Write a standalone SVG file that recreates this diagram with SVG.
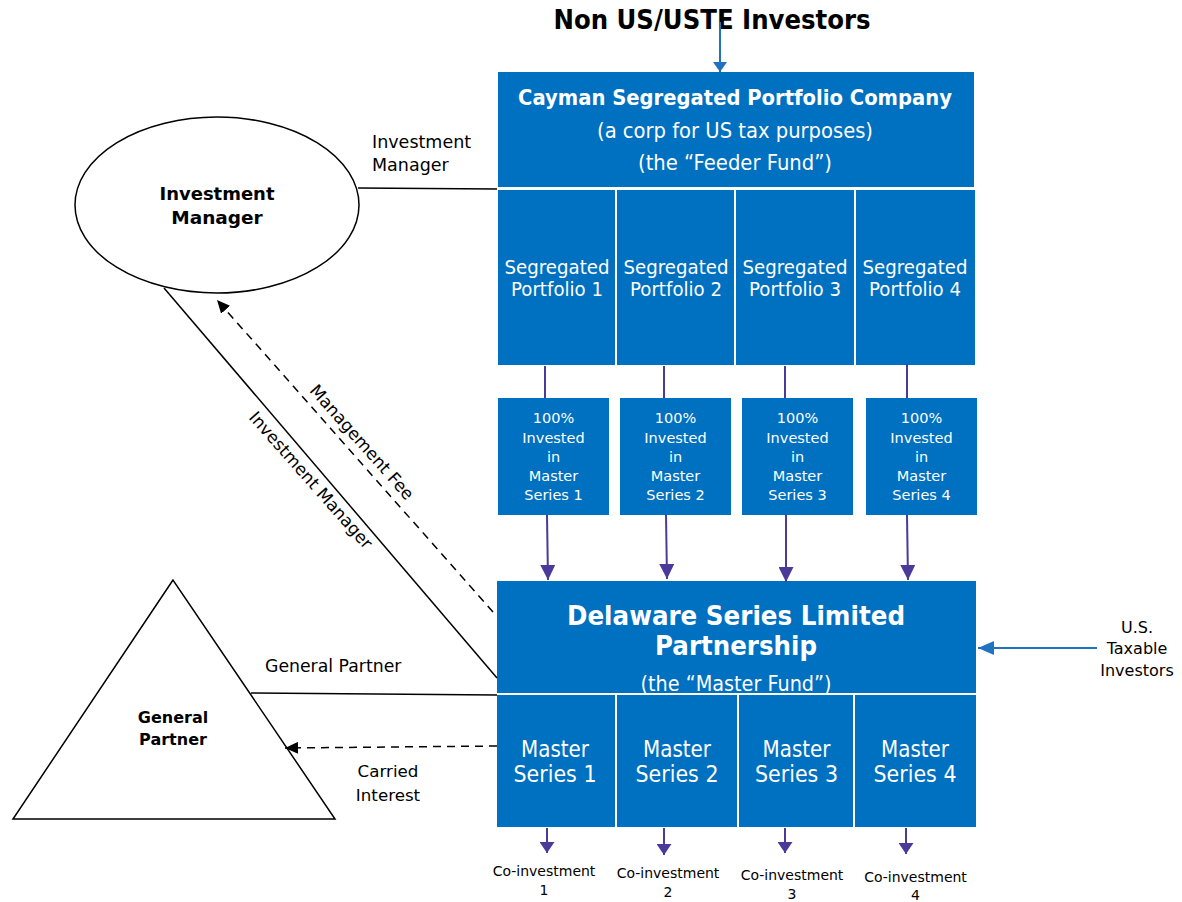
<svg xmlns="http://www.w3.org/2000/svg" width="1182" height="902" viewBox="0 0 1182 902">
<style>
text{font-family:"DejaVu Sans","Liberation Sans",sans-serif;}
.box{fill:#0070C0;stroke:#ffffff;stroke-width:2;}
.wt{fill:#ffffff;text-anchor:middle;}
.bk{fill:#000000;}
.c{text-anchor:middle;}
.b{font-weight:bold;}
.ln{stroke:#000000;stroke-width:1.5;fill:none;}
.dash{stroke:#000000;stroke-width:1.5;fill:none;stroke-dasharray:8 6;}
.pu{stroke:#4B3A9A;stroke-width:2;fill:none;}
.bl{stroke:#1F72C0;stroke-width:2;fill:none;}
.sp{font-size:20px;}
.ms{font-size:22.5px;}
</style>
<defs>
<marker id="apu" markerUnits="userSpaceOnUse" markerWidth="15" markerHeight="15" refX="15" refY="7.5" orient="auto"><path d="M0,0 L15,7.5 L0,15 z" fill="#4B3A9A"/></marker>
<marker id="apus" markerUnits="userSpaceOnUse" markerWidth="11" markerHeight="15" refX="11" refY="7.5" orient="auto"><path d="M0,0 L11,7.5 L0,15 z" fill="#4B3A9A"/></marker>
<marker id="abk" markerUnits="userSpaceOnUse" markerWidth="13" markerHeight="12" refX="13" refY="6" orient="auto"><path d="M0,0 L13,6 L0,12 z" fill="#000000"/></marker>
<marker id="abl" markerUnits="userSpaceOnUse" markerWidth="16" markerHeight="14" refX="16" refY="7" orient="auto"><path d="M0,0 L16,7 L0,14 z" fill="#1F72C0"/></marker>
<marker id="abls" markerUnits="userSpaceOnUse" markerWidth="10" markerHeight="14" refX="10" refY="7" orient="auto"><path d="M0,0 L10,7 L0,14 z" fill="#1F72C0"/></marker>
</defs>

<g id="title">
<text class="bk c b" x="712" y="29" font-size="26.5" textLength="317" lengthAdjust="spacingAndGlyphs">Non US/USTE Investors</text>
</g>

<g id="cayman">
<rect class="box" x="497" y="71" width="478" height="117"/>
<text class="wt b" x="735" y="105" font-size="21" textLength="434" lengthAdjust="spacingAndGlyphs">Cayman Segregated Portfolio Company</text>
<text class="wt" x="735" y="138" font-size="21" textLength="276" lengthAdjust="spacingAndGlyphs">(a corp for US tax purposes)</text>
<text class="wt" x="735" y="170" font-size="21" textLength="194" lengthAdjust="spacingAndGlyphs">(the “Feeder Fund”)</text>
</g>

<g id="sp1"><rect class="box" x="497" y="189" width="119" height="177"/>
<text class="wt sp" x="557" y="274" textLength="105" lengthAdjust="spacingAndGlyphs">Segregated</text><text class="wt sp" x="557" y="296" textLength="92" lengthAdjust="spacingAndGlyphs">Portfolio 1</text></g>
<g id="sp2"><rect class="box" x="616" y="189" width="119" height="177"/>
<text class="wt sp" x="676" y="274" textLength="105" lengthAdjust="spacingAndGlyphs">Segregated</text><text class="wt sp" x="676" y="296" textLength="92" lengthAdjust="spacingAndGlyphs">Portfolio 2</text></g>
<g id="sp3"><rect class="box" x="735" y="189" width="120" height="177"/>
<text class="wt sp" x="795" y="274" textLength="105" lengthAdjust="spacingAndGlyphs">Segregated</text><text class="wt sp" x="795" y="296" textLength="92" lengthAdjust="spacingAndGlyphs">Portfolio 3</text></g>
<g id="sp4"><rect class="box" x="855" y="189" width="121" height="177"/>
<text class="wt sp" x="915" y="274" textLength="105" lengthAdjust="spacingAndGlyphs">Segregated</text><text class="wt sp" x="915" y="296" textLength="92" lengthAdjust="spacingAndGlyphs">Portfolio 4</text></g>

<g id="inv1"><rect x="498" y="398" width="111" height="117" fill="#0070C0"/>
<text class="wt" font-size="14.5"><tspan x="553.5" y="423">100%</tspan><tspan x="553.5" y="443">Invested</tspan><tspan x="553.5" y="462">in</tspan><tspan x="553.5" y="481">Master</tspan><tspan x="553.5" y="500">Series 1</tspan></text></g>
<g id="inv2"><rect x="620" y="398" width="111" height="117" fill="#0070C0"/>
<text class="wt" font-size="14.5"><tspan x="675.5" y="423">100%</tspan><tspan x="675.5" y="443">Invested</tspan><tspan x="675.5" y="462">in</tspan><tspan x="675.5" y="481">Master</tspan><tspan x="675.5" y="500">Series 2</tspan></text></g>
<g id="inv3"><rect x="742" y="398" width="111" height="117" fill="#0070C0"/>
<text class="wt" font-size="14.5"><tspan x="797.5" y="423">100%</tspan><tspan x="797.5" y="443">Invested</tspan><tspan x="797.5" y="462">in</tspan><tspan x="797.5" y="481">Master</tspan><tspan x="797.5" y="500">Series 3</tspan></text></g>
<g id="inv4"><rect x="866" y="398" width="111" height="117" fill="#0070C0"/>
<text class="wt" font-size="14.5"><tspan x="921.5" y="423">100%</tspan><tspan x="921.5" y="443">Invested</tspan><tspan x="921.5" y="462">in</tspan><tspan x="921.5" y="481">Master</tspan><tspan x="921.5" y="500">Series 4</tspan></text></g>

<g id="delaware">
<rect class="box" x="496" y="580" width="481" height="114"/>
<text class="wt b" x="736" y="625" font-size="26.5" textLength="338" lengthAdjust="spacingAndGlyphs">Delaware Series Limited</text>
<text class="wt b" x="736" y="655" font-size="26.5" textLength="162" lengthAdjust="spacingAndGlyphs">Partnership</text>
<text class="wt" x="736" y="691" font-size="21" textLength="191" lengthAdjust="spacingAndGlyphs">(the “Master Fund”)</text>
</g>

<g id="ms1"><rect class="box" x="496" y="694" width="120" height="134"/>
<text class="wt ms" x="555" y="757" textLength="68" lengthAdjust="spacingAndGlyphs">Master</text><text class="wt ms" x="555" y="782" textLength="83" lengthAdjust="spacingAndGlyphs">Series 1</text></g>
<g id="ms2"><rect class="box" x="616" y="694" width="122" height="134"/>
<text class="wt ms" x="677" y="757" textLength="68" lengthAdjust="spacingAndGlyphs">Master</text><text class="wt ms" x="677" y="782" textLength="83" lengthAdjust="spacingAndGlyphs">Series 2</text></g>
<g id="ms3"><rect class="box" x="738" y="694" width="116" height="134"/>
<text class="wt ms" x="796.5" y="757" textLength="68" lengthAdjust="spacingAndGlyphs">Master</text><text class="wt ms" x="796.5" y="782" textLength="83" lengthAdjust="spacingAndGlyphs">Series 3</text></g>
<g id="ms4"><rect class="box" x="854" y="694" width="123" height="134"/>
<text class="wt ms" x="915" y="757" textLength="68" lengthAdjust="spacingAndGlyphs">Master</text><text class="wt ms" x="915" y="782" textLength="83" lengthAdjust="spacingAndGlyphs">Series 4</text></g>

<g id="co1"><text class="bk c" font-size="14"><tspan x="544" y="876">Co-investment</tspan><tspan x="544" y="895">1</tspan></text></g>
<g id="co2"><text class="bk c" font-size="14"><tspan x="668" y="878">Co-investment</tspan><tspan x="668" y="897">2</tspan></text></g>
<g id="co3"><text class="bk c" font-size="14"><tspan x="792" y="880">Co-investment</tspan><tspan x="792" y="899">3</tspan></text></g>
<g id="co4"><text class="bk c" font-size="14"><tspan x="915.5" y="882">Co-investment</tspan><tspan x="915.5" y="900">4</tspan></text></g>

<g id="investment-manager">
<ellipse cx="217" cy="205" rx="142" ry="88" fill="#ffffff" stroke="#000000" stroke-width="1.5"/>
<text class="bk c b" x="217" y="200" font-size="18.5" textLength="115" lengthAdjust="spacingAndGlyphs">Investment</text>
<text class="bk c b" x="217" y="224" font-size="18.5">Manager</text>
</g>

<g id="general-partner">
<polygon points="173,580 13,819 335,819" fill="#ffffff" stroke="#000000" stroke-width="1.5"/>
<text class="bk c b" x="173" y="723" font-size="16">General</text>
<text class="bk c b" x="173" y="745" font-size="16">Partner</text>
</g>

<g id="us-taxable">
<text class="bk c" font-size="16"><tspan x="1137" y="633">U.S.</tspan><tspan x="1137" y="654">Taxable</tspan><tspan x="1137" y="676">Investors</tspan></text>
</g>

<g id="connectors">
<line class="bl" x1="720" y1="22" x2="720" y2="72" marker-end="url(#abls)"/>
<line class="bl" x1="1097" y1="648" x2="978" y2="648" marker-end="url(#abl)"/>

<line class="pu" x1="545" y1="366" x2="545" y2="398"/>
<line class="pu" x1="664" y1="366" x2="664" y2="398"/>
<line class="pu" x1="785" y1="366" x2="785" y2="398"/>
<line class="pu" x1="907" y1="364" x2="907" y2="398"/>

<line class="pu" x1="547" y1="515" x2="548" y2="580" marker-end="url(#apu)"/>
<line class="pu" x1="666" y1="515" x2="667" y2="579" marker-end="url(#apu)"/>
<line class="pu" x1="786" y1="515" x2="786" y2="582" marker-end="url(#apu)"/>
<line class="pu" x1="907" y1="515" x2="908" y2="580" marker-end="url(#apu)"/>

<line class="pu" x1="547" y1="828" x2="547" y2="853" marker-end="url(#apus)"/>
<line class="pu" x1="664" y1="828" x2="664" y2="855" marker-end="url(#apus)"/>
<line class="pu" x1="785" y1="828" x2="785" y2="853" marker-end="url(#apus)"/>
<line class="pu" x1="906" y1="828" x2="906" y2="854" marker-end="url(#apus)"/>

<line class="ln" x1="358" y1="188" x2="497" y2="189"/>
<text class="bk" font-size="17.5"><tspan x="372" y="148">Investment</tspan><tspan x="372" y="171">Manager</tspan></text>

<line class="ln" x1="164" y1="288" x2="497" y2="678"/>
<text class="bk c" font-size="17" transform="translate(306.5,484) rotate(48.5)" x="0" y="0">Investment Manager</text>

<line class="dash" x1="493" y1="612" x2="217" y2="300" marker-end="url(#abk)"/>
<text class="bk c" font-size="17" transform="translate(357.5,446) rotate(48.5)" x="0" y="0">Management Fee</text>

<line class="ln" x1="251" y1="693" x2="497" y2="695"/>
<text class="bk" x="265" y="672" font-size="17.3">General Partner</text>

<line class="dash" x1="497" y1="746" x2="285" y2="748" marker-end="url(#abk)"/>
<text class="bk c" font-size="16.7"><tspan x="388" y="777">Carried</tspan><tspan x="388" y="801">Interest</tspan></text>
</g>
</svg>
